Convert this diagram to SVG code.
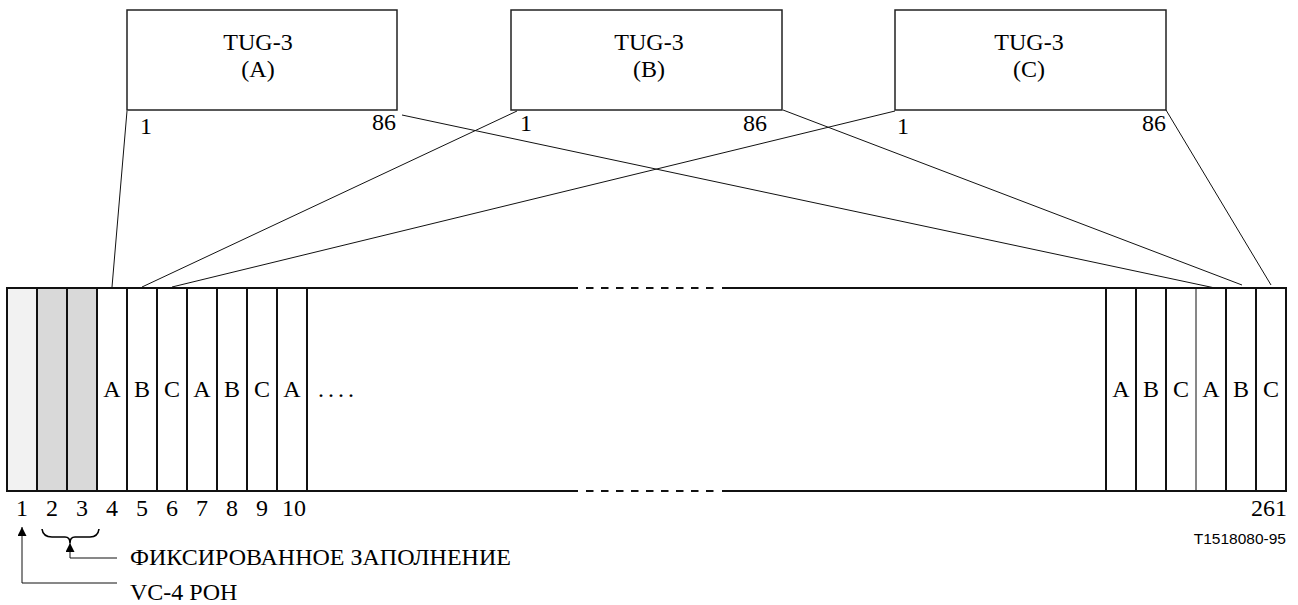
<svg xmlns="http://www.w3.org/2000/svg" width="1298" height="605" viewBox="0 0 1298 605">
<defs>
<style>
.t{font-family:"Liberation Serif","Times New Roman",serif;font-size:24px;fill:#000}
.m{text-anchor:middle}
.e{text-anchor:end}
.box{fill:#fff;stroke:#222;stroke-width:1.5}
.conn{stroke:#111;stroke-width:1;fill:none}
.div{stroke:#111;stroke-width:2}
.sans{font-family:"Liberation Sans",Arial,sans-serif;font-size:15.5px;fill:#000}
</style>
<marker id="ah" viewBox="0 0 10 10" refX="10" refY="5" markerWidth="9" markerHeight="9" markerUnits="userSpaceOnUse" orient="auto">
<path d="M0,0 L10,5 L0,10 z" fill="#000"/>
</marker>
</defs>
<rect width="1298" height="605" fill="#fff"/>

<g id="tug3-a">
<rect class="box" x="127" y="10" width="270" height="100"/>
<text class="t m" x="258" y="50">TUG-3</text>
<text class="t m" x="258" y="77">(A)</text>
<text class="t" x="140" y="134">1</text>
<text class="t e" x="396" y="130">86</text>
</g>
<g id="tug3-b">
<rect class="box" x="511" y="10" width="271" height="100"/>
<text class="t m" x="649" y="50">TUG-3</text>
<text class="t m" x="649" y="77">(B)</text>
<text class="t" x="520" y="131">1</text>
<text class="t e" x="767" y="131">86</text>
</g>
<g id="tug3-c">
<rect class="box" x="895" y="10" width="271" height="100"/>
<text class="t m" x="1029" y="50">TUG-3</text>
<text class="t m" x="1029" y="77">(C)</text>
<text class="t" x="897" y="134">1</text>
<text class="t e" x="1166" y="131">86</text>
</g>

<g id="vc4">
<rect x="7" y="288" width="30" height="203" fill="#f2f2f2"/>
<rect x="37" y="288" width="60" height="203" fill="#d9d9d9"/>
<line class="div" x1="7" y1="288" x2="578" y2="288"/>
<line class="div" x1="722" y1="288" x2="1286" y2="288"/>
<line class="div" x1="586" y1="288" x2="715" y2="288" stroke-dasharray="7.5 7.5"/>
<line class="div" x1="7" y1="491" x2="578" y2="491"/>
<line class="div" x1="722" y1="491" x2="1286" y2="491"/>
<line class="div" x1="586" y1="491" x2="715" y2="491" stroke-dasharray="7.5 7.5"/>
<line class="div" x1="7" y1="287" x2="7" y2="492"/>
<line class="div" x1="1286" y1="287" x2="1286" y2="492"/>
<g class="div">
<line x1="37" y1="288" x2="37" y2="491"/>
<line x1="67" y1="288" x2="67" y2="491"/>
<line x1="97" y1="288" x2="97" y2="491"/>
<line x1="127" y1="288" x2="127" y2="491"/>
<line x1="157" y1="288" x2="157" y2="491"/>
<line x1="187" y1="288" x2="187" y2="491"/>
<line x1="217" y1="288" x2="217" y2="491"/>
<line x1="247" y1="288" x2="247" y2="491"/>
<line x1="277" y1="288" x2="277" y2="491"/>
<line x1="307" y1="288" x2="307" y2="491"/>
<line x1="1106" y1="288" x2="1106" y2="491"/>
<line x1="1136" y1="288" x2="1136" y2="491"/>
<line x1="1166" y1="288" x2="1166" y2="491"/>
<line x1="1226" y1="288" x2="1226" y2="491"/>
<line x1="1256" y1="288" x2="1256" y2="491"/>
</g>
<line x1="1196" y1="288" x2="1196" y2="491" stroke="#111" stroke-width="1"/>
<text class="t m" x="112" y="397">A</text>
<text class="t m" x="142" y="397">B</text>
<text class="t m" x="172" y="397">C</text>
<text class="t m" x="202" y="397">A</text>
<text class="t m" x="232" y="397">B</text>
<text class="t m" x="262" y="397">C</text>
<text class="t m" x="292" y="397">A</text>
<text class="t" x="318" y="397" letter-spacing="4">....</text>
<text class="t m" x="1121" y="397">A</text>
<text class="t m" x="1151" y="397">B</text>
<text class="t m" x="1181" y="397">C</text>
<text class="t m" x="1211" y="397">A</text>
<text class="t m" x="1241" y="397">B</text>
<text class="t m" x="1271" y="397">C</text>
</g>

<g id="column-numbers">
<text class="t m" x="22" y="516">1</text>
<text class="t m" x="52" y="516">2</text>
<text class="t m" x="82" y="516">3</text>
<text class="t m" x="112" y="516">4</text>
<text class="t m" x="142" y="516">5</text>
<text class="t m" x="172" y="516">6</text>
<text class="t m" x="202" y="516">7</text>
<text class="t m" x="232" y="516">8</text>
<text class="t m" x="262" y="516">9</text>
<text class="t m" x="294" y="516">10</text>
<text class="t e" x="1287" y="516">261</text>
</g>

<g id="connectors">
<line class="conn" x1="127" y1="111" x2="112" y2="287"/>
<line class="conn" x1="402" y1="115" x2="1215" y2="288"/>
<line class="conn" x1="517" y1="111" x2="142" y2="287"/>
<line class="conn" x1="783" y1="110" x2="1242" y2="285"/>
<line class="conn" x1="895" y1="111" x2="172" y2="287"/>
<line class="conn" x1="1166" y1="110" x2="1271" y2="285"/>
</g>

<g id="legend">
<path d="M42,529 Q43,537 52,537 L65,537 Q70,537 70,543 Q70,537 75,537 L90,537 Q98,537 99,529" fill="none" stroke="#000" stroke-width="1.6"/>
<polyline class="conn" points="117,558 70,558 70,543" marker-end="url(#ah)" stroke-width="1.2"/>
<polyline class="conn" points="117,583 22,583 22,527" marker-end="url(#ah)" stroke-width="1.2"/>
<text class="t" x="130" y="565">ФИКСИРОВАННОЕ ЗАПОЛНЕНИЕ</text>
<text class="t" x="130" y="600">VC-4 POH</text>
<text class="sans e" x="1286" y="544">T1518080-95</text>
</g>
</svg>
